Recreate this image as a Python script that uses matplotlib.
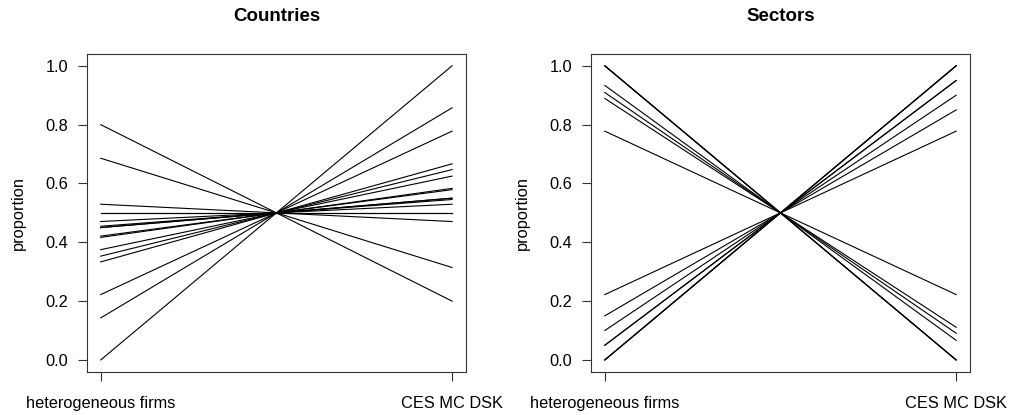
import numpy as np
import matplotlib
matplotlib.use("Agg")
import matplotlib.pyplot as plt

plt.rcParams['font.family'] = ['Liberation Sans', 'DejaVu Sans']

models = ["heterogeneous firms", "CES MC DSK"]

# share of "heterogeneous firms" per unit; the other model gets 1 - share
countries = [0.8, 0.6857, 0.5294, 0.5, 0.5, 0.4706, 0.4545, 0.45, 0.45,
             0.4211, 0.4167, 0.375, 0.3529, 0.3333, 0.2222, 0.1429, 0.0]
sectors = [1.0, 1.0, 1.0, 0.9333, 0.9091, 0.8889, 0.7778, 0.2222, 0.15,
           0.1, 0.05, 0.05, 0.0, 0.0, 0.0]

panels = [("Countries", countries), ("Sectors", sectors)]


def main():
    fig = plt.figure(figsize=(10.1, 4.15), dpi=100)
    lefts = [0.0858, 0.5849]
    for (title, vals), x0 in zip(panels, lefts):
        ax = fig.add_axes([x0, 0.1043, 0.3757, 0.7655])
        for p in vals:
            ax.plot([1, 2], [p, 1 - p], color="black", lw=0.8)
        ax.set_xlim(0.96, 2.04)
        ax.set_ylim(-0.04, 1.04)
        ax.set_xticks([1, 2])
        ax.set_xticklabels(models)
        ax.set_yticks(np.arange(0, 1.01, 0.2))
        ax.set_yticklabels(["%.1f" % v for v in np.arange(0, 1.01, 0.2)])
        ax.tick_params(labelsize=11.8, length=6.5, width=0.8, color="#333333")
        ax.tick_params(axis="x", pad=11)
        ax.tick_params(axis="y", pad=7)
        ax.set_ylabel("proportion", fontsize=11.8, labelpad=14)
        ax.set_title(title, fontsize=13.5, fontweight="bold", pad=24)
        for s in ax.spines.values():
            s.set_linewidth(0.8)
            s.set_color("#333333")
    fig.savefig("out.png", dpi=100)


if __name__ == "__main__":
    main()
